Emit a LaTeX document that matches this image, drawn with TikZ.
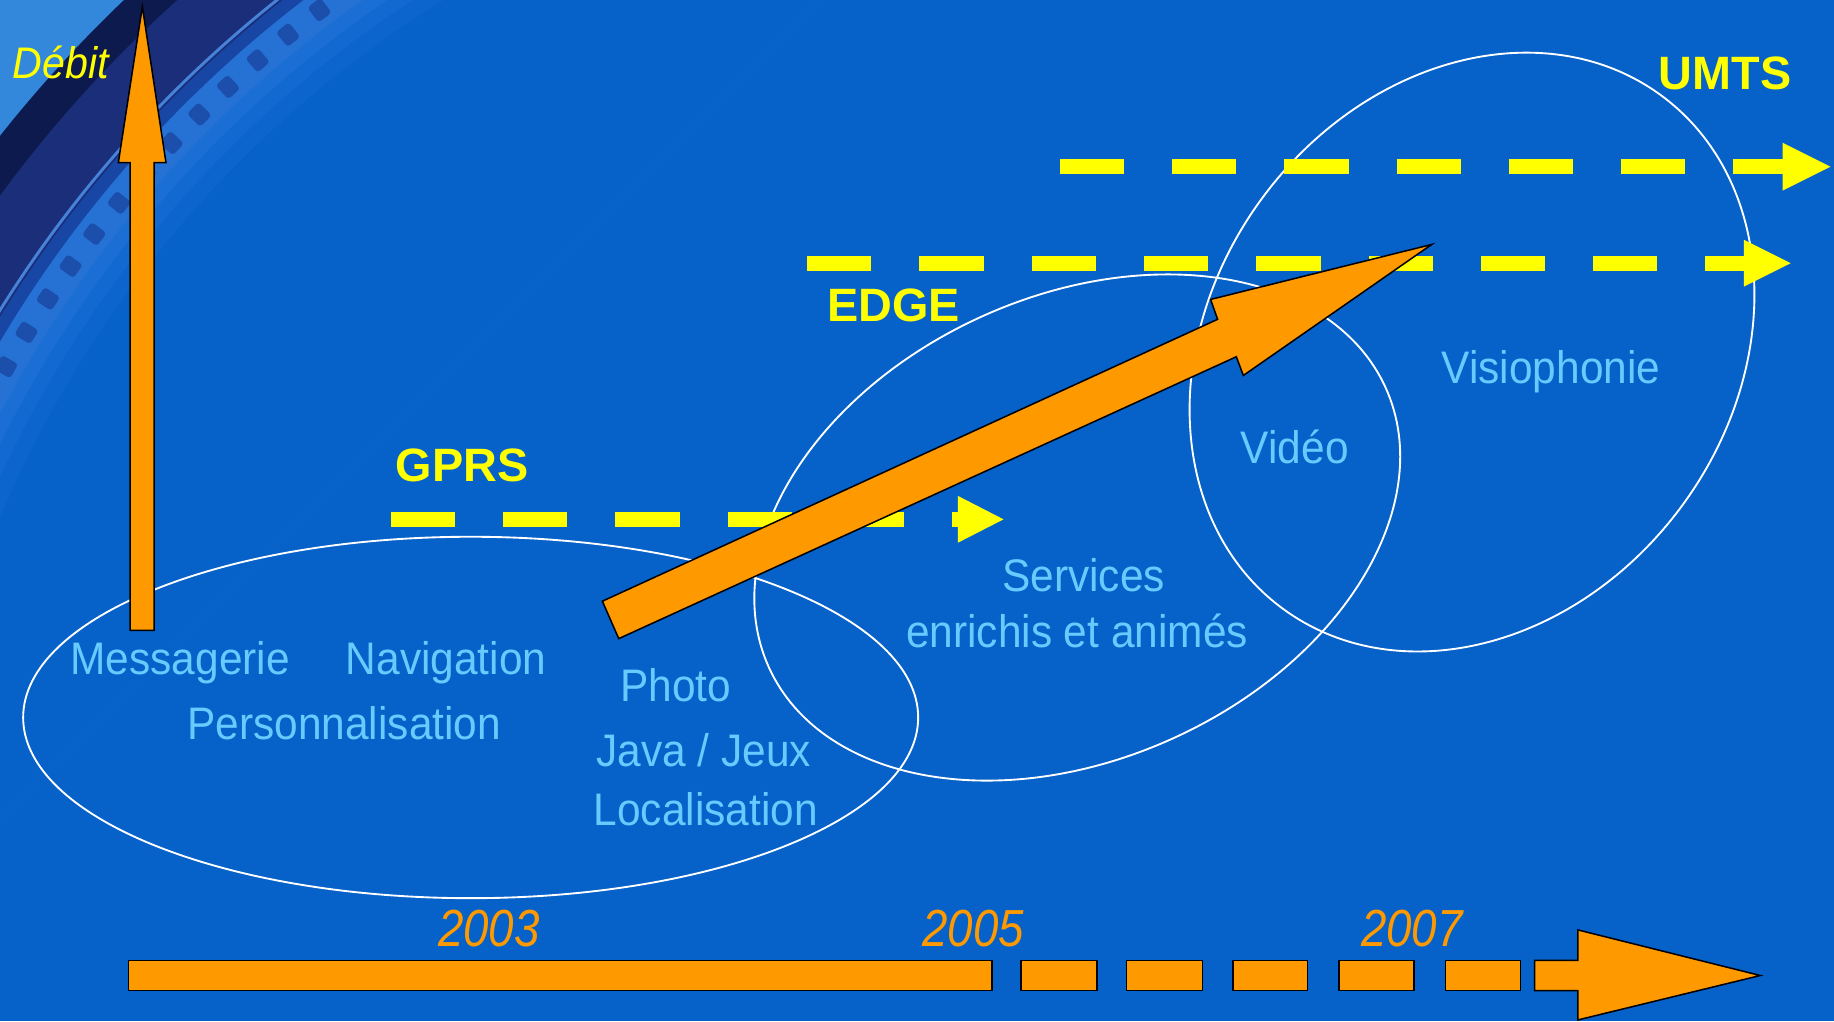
\documentclass[tikz,border=0pt]{standalone}
\usepackage{fontspec}
\setmainfont{Liberation Sans}
\newfontfamily\lblfont[FakeStretch=0.93]{Liberation Sans}
\newfontfamily\yrfont[FakeStretch=0.875]{Liberation Sans}
\definecolor{bgblue}{RGB}{6,97,201}
\definecolor{cornerblue}{RGB}{52,136,220}
\definecolor{navyA}{RGB}{12,26,78}
\definecolor{navyB}{RGB}{26,46,122}
\definecolor{ringline}{RGB}{70,130,215}
\definecolor{ringdark}{RGB}{24,70,165}
\definecolor{ringlight}{RGB}{38,114,212}
\definecolor{notchc}{RGB}{28,78,172}
\definecolor{glowA}{RGB}{26,110,212}
\definecolor{glowB}{RGB}{18,105,208}
\definecolor{glowC}{RGB}{11,101,204}
\definecolor{yel}{RGB}{255,255,0}
\definecolor{orng}{RGB}{255,153,0}
\definecolor{txtblue}{RGB}{102,204,255}
\begin{document}
\begin{tikzpicture}[x=1pt,y=-1pt,
  lbl/.style={text=txtblue, font=\lblfont\fontsize{39}{45}\selectfont, inner sep=0pt, anchor=base},
  tech/.style={text=yel, font=\bfseries\fontsize{40}{46}\selectfont, inner sep=0pt, anchor=base},
  yearlbl/.style={text=orng, font=\yrfont\itshape\fontsize{44.6}{50}\selectfont, inner sep=0pt, anchor=base},
  zone/.style={draw=white, line width=1.6pt},
  dashline/.style={draw=yel, line width=13pt, dash pattern=on 55pt off 41pt},
  yhead/.style={fill=yel},
  oarrow/.style={fill=orng, draw=black, line width=1.3pt, line join=miter}]
\useasboundingbox (0,0) rectangle (1568,873);
% background
\fill[bgblue] (0,0) rectangle (1568,873);
\begin{scope}
  \clip (0,0) -- (700,0) -- (0,700) -- cycle;
  \fill[cornerblue] (0,0) rectangle (700,700);
  \coordinate (lc) at (883,815);
  \fill[navyA] (lc) circle [radius=1126pt];
  \fill[navyB] (lc) circle [radius=1095pt];
  \draw[ringline, line width=2.5pt] (lc) circle [radius=1040pt];
  \fill[ringdark] (lc) circle [radius=1037pt];
  \fill[ringlight] (lc) circle [radius=1026pt];
  \begin{scope}[shift={(lc)}]
    \foreach \a in {127.1,129.03,...,152}
      \fill[notchc, rotate=\a, rounded corners=3pt] (1003,-7) rectangle (1019,7);
  \end{scope}
  \fill[glowA] (lc) circle [radius=996pt];
  \fill[glowB] (lc) circle [radius=984pt];
  \fill[glowC] (lc) circle [radius=972pt];
  \fill[bgblue] (lc) circle [radius=958pt];
\end{scope}
% zones
\draw[zone] (402.4,613.4) ellipse [x radius=382.6pt, y radius=154.5pt];
\draw[zone, rotate around={24.4:(921,451)}] (921,451) ellipse [x radius=289.5pt, y radius=198pt];
\draw[zone, rotate around={53.45:(1258.5,301)}] (1258.5,301) ellipse [x radius=272.6pt, y radius=222.5pt];
% yellow dashed arrows
\coordinate (gS) at (334,444); \coordinate (gB) at (819,444);
\draw[dashline] (gS) -- (gB);
\fill[yhead] (819,424) -- (858,444) -- (819,464) -- cycle;
\coordinate (eS) at (690,225); \coordinate (eB) at (1491,225);
\draw[dashline] (eS) -- (eB);
\fill[yhead] (1491,205) -- (1531,225) -- (1491,245) -- cycle;
\coordinate (uS) at (906,142.5); \coordinate (uB) at (1524,142.5);
\draw[dashline] (uS) -- (uB);
\fill[yhead] (1524,122) -- (1565,142.5) -- (1524,163) -- cycle;
% Debit arrow
\draw[oarrow] (111.2,539) -- (131.7,539) -- (131.7,139) -- (141.9,139) -- (121.7,5.7) -- (101.2,139) -- (111.2,139) -- cycle;
% diagonal arrow
\draw[oarrow] (515,514) -- (1041,273) -- (1035,256) -- (1224,209) -- (1063,321) -- (1057,305) -- (529,546) -- cycle;
% timeline
\draw[oarrow] (110,821) rectangle (848,847);
\foreach \a/\b in {873/938, 963/1028, 1054/1118, 1145/1209, 1236/1300}
  \draw[oarrow] (\a,821) rectangle (\b,847);
\draw[oarrow] (1312,821) -- (1349,821) -- (1349,795) -- (1505,834) -- (1349,872) -- (1349,847) -- (1312,847) -- cycle;
% labels
\node[text=yel, font=\lblfont\itshape\fontsize{37.8}{44}\selectfont, inner sep=0pt, anchor=base] (debit) at (52,67) {Débit};
\node[tech] (gprs) at (395,412) {GPRS};
\node[tech] (edge) at (764,275) {EDGE};
\node[tech] (umts) at (1475,76.4) {UMTS};
\node[lbl] (mess) at (154,577) {Messagerie};
\node[lbl] (navi) at (381.4,577) {Navigation};
\node[lbl] (pers) at (294.3,632) {Personnalisation};
\node[lbl] (photo) at (577.6,600) {Photo};
\node[lbl] (java) at (601.8,655.5) {Java / Jeux};
\node[lbl] (loca) at (603.4,705.4) {Localisation};
\node[lbl] (serv) at (926.4,506) {Services};
\node[lbl] (enri) at (920.8,553.5) {enrichis et animés};
\node[lbl] (video) at (1107,396) {Vidéo};
\node[lbl] (visio) at (1326,327.7) {Visiophonie};
\node[yearlbl] (y3) at (418,809) {2003};
\node[yearlbl] (y5) at (832,809) {2005};
\node[yearlbl] (y7) at (1207,809) {2007};
\end{tikzpicture}
\end{document}
